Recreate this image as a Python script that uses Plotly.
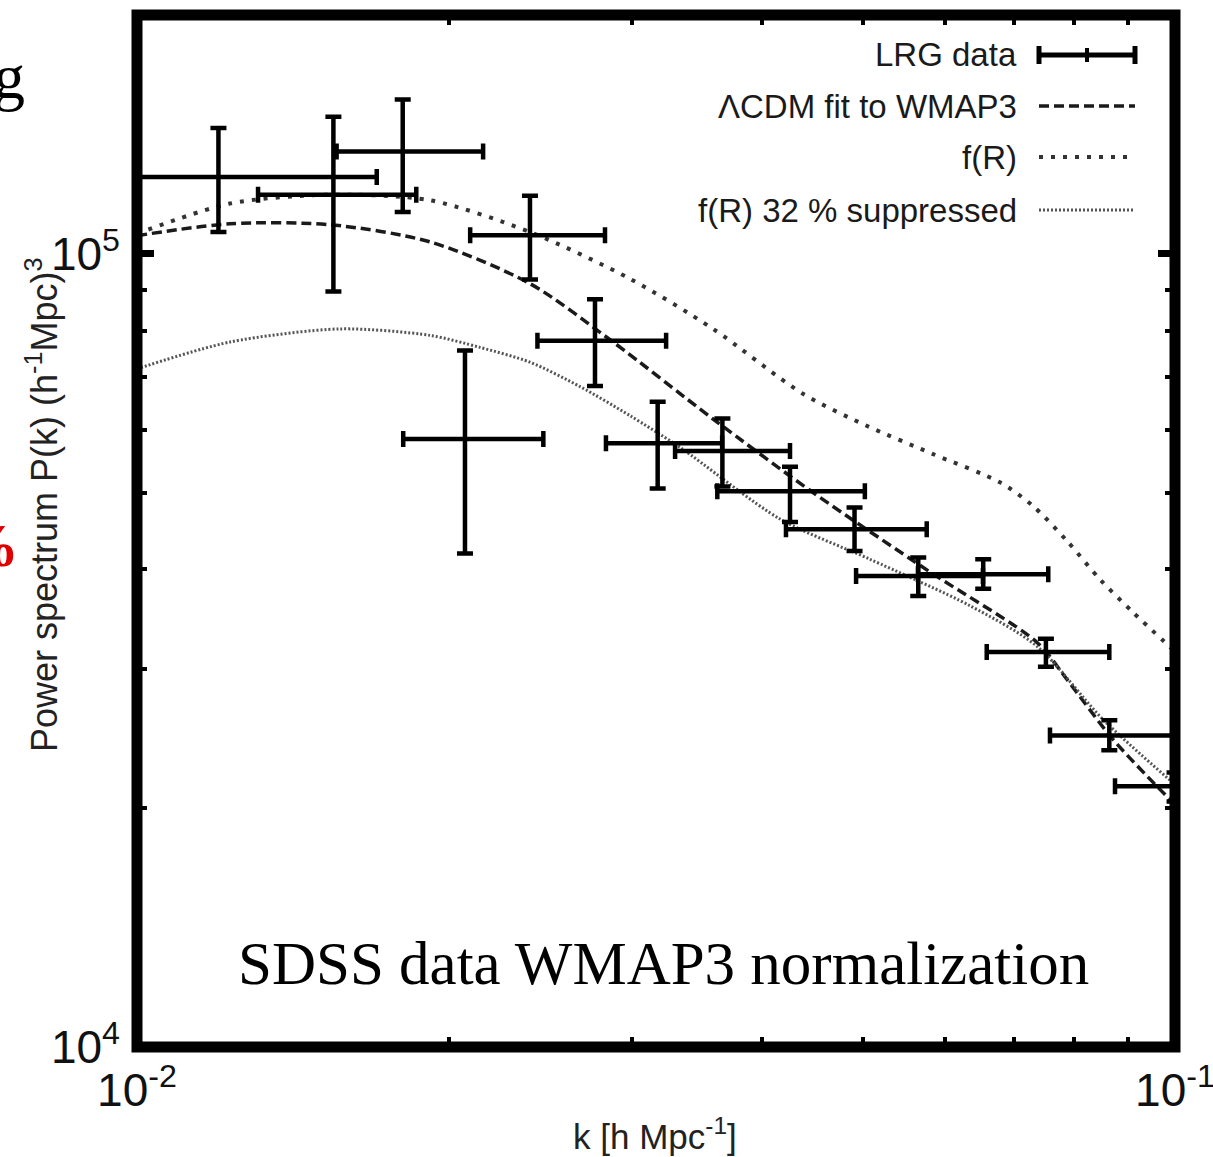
import plotly.graph_objects as go

# ---------------- data ----------------
k_data = [0.01198, 0.01546, 0.01803, 0.02391, 0.02762, 0.02070, 0.03174, 0.03664,
          0.04257, 0.04912, 0.05658, 0.06535, 0.07510, 0.08644, 0.0999]
k_lo = [0.0085, 0.01308, 0.01557, 0.02094, 0.02431, 0.01805, 0.02830, 0.03299,
        0.03623, 0.04219, 0.04929, 0.05654, 0.06586, 0.07578, 0.08754]
k_hi = [0.01702, 0.01858, 0.02155, 0.02824, 0.03234, 0.02463, 0.03662, 0.04257,
        0.05026, 0.05765, 0.06531, 0.07549, 0.08644, 0.1000, 0.1000]
P_data = [1.250e5, 1.187e5, 1.346e5, 1.055e5, 0.777e5, 0.584e5, 0.577e5, 0.564e5,
          0.502e5, 0.4496e5, 0.3925e5, 0.3944e5, 0.3147e5, 0.2470e5, 0.2132e5]
P_hi = [1.441e5, 1.488e5, 1.565e5, 1.183e5, 0.876e5, 0.755e5, 0.651e5, 0.620e5,
        0.539e5, 0.4788e5, 0.4140e5, 0.4120e5, 0.3271e5, 0.2582e5, 0.2218e5]
P_lo = [1.065e5, 0.896e5, 1.129e5, 0.928e5, 0.681e5, 0.419e5, 0.506e5, 0.509e5,
        0.459e5, 0.4220e5, 0.3703e5, 0.3783e5, 0.3016e5, 0.2366e5, 0.2040e5]

k_lcdm = [0.0100, 0.01229, 0.01535, 0.01916, 0.02391, 0.02875, 0.03589, 0.04480,
          0.05808, 0.07364, 0.07870, 0.08715, 0.1000]
P_lcdm = [1.054e5, 1.091e5, 1.088e5, 1.035e5, 0.917e5, 0.774e5, 0.619e5, 0.500e5,
          0.397e5, 0.3236e5, 0.2906e5, 0.2442e5, 0.2020e5]

k_fr = [0.0100, 0.01229, 0.01535, 0.01916, 0.02391, 0.02985, 0.03589, 0.04381,
        0.05046, 0.05848, 0.06783, 0.07297, 0.07870, 0.08467, 0.09110, 0.1000]
P_fr = [1.060e5, 1.157e5, 1.187e5, 1.168e5, 1.065e5, 0.930e5, 0.804e5, 0.666e5,
        0.607e5, 0.559e5, 0.515e5, 0.481e5, 0.4345e5, 0.3886e5, 0.3532e5, 0.3151e5]

k_sup = [0.0100, 0.01229, 0.01569, 0.01916, 0.02140, 0.02391, 0.02672, 0.02985,
         0.03336, 0.04164, 0.05083, 0.06346, 0.07364, 0.08523, 0.1000]
P_sup = [0.716e5, 0.774e5, 0.804e5, 0.789e5, 0.762e5, 0.730e5, 0.680e5, 0.625e5,
         0.570e5, 0.463e5, 0.412e5, 0.360e5, 0.320e5, 0.2588e5, 0.2142e5]

legend_labels = ["LRG data", "\u039bCDM fit to WMAP3", "f(R)", "f(R) 32 % suppressed"]
x_ticks = [0.01, 0.1]
x_ticktext = ["10<sup>-2</sup>", "10<sup>-1</sup>"]
y_ticks = [1e4, 1e5]
y_ticktext = ["10<sup>4</sup>", "10<sup>5</sup>"]
x_minor = [0.02, 0.03, 0.04, 0.05, 0.06, 0.07, 0.08, 0.09]
y_minor = [2e4, 3e4, 4e4, 5e4, 6e4, 7e4, 8e4, 9e4]

# ---------------- figure ----------------
fig = go.Figure()

fig.add_trace(go.Scatter(
    x=k_lcdm, y=P_lcdm, mode="lines",
    line=dict(color="#1a1a1a", width=3.5, dash="10px,5px", shape="spline", smoothing=0.8),
    showlegend=False))
fig.add_trace(go.Scatter(
    x=k_fr, y=P_fr, mode="lines",
    line=dict(color="#333333", width=4, dash="4px,8px", shape="spline", smoothing=0.8),
    showlegend=False))
fig.add_trace(go.Scatter(
    x=k_sup, y=P_sup, mode="lines",
    line=dict(color="#555555", width=3, dash="2px,2px", shape="spline", smoothing=0.8),
    showlegend=False))

fig.add_trace(go.Scatter(
    x=k_data, y=P_data, mode="markers",
    marker=dict(size=1, color="black"),
    error_x=dict(type="data", symmetric=False,
                 array=[h - c for h, c in zip(k_hi, k_data)],
                 arrayminus=[c - l for l, c in zip(k_lo, k_data)],
                 color="black", thickness=4.5, width=8),
    error_y=dict(type="data", symmetric=False,
                 array=[h - c for h, c in zip(P_hi, P_data)],
                 arrayminus=[c - l for l, c in zip(P_lo, P_data)],
                 color="black", thickness=4.5, width=8),
    showlegend=False))

# plot-area geometry in screen pixels (body margin removed by post_script)
W, H = 1213, 1157
SX0, SX1, SY0, SY1 = 137, 1175, 15, 1047   # plot area on screen
L, T = SX0, SY0
R = W - SX1
B = H - SY1
pw, ph = SX1 - SX0, SY1 - SY0

def px(xs):
    return (xs - SX0) / pw

def py(ys):
    return (SY1 - ys) / ph

tickfont = dict(family="Liberation Sans, Arial, sans-serif", size=46, color="#111")

fig.update_xaxes(type="log", range=[-2, -1], tickvals=x_ticks, ticktext=x_ticktext,
                 ticks="inside", ticklen=17, tickwidth=7, tickcolor="black",
                 mirror="allticks", showline=False, showgrid=False, zeroline=False,
                 automargin=False,
                 tickfont=tickfont, ticklabelstandoff=12, ticklabeloverflow="allow",
                 minor=dict(tickvals=x_minor, ticks="inside", ticklen=10, tickwidth=4,
                            tickcolor="black", showgrid=False))
fig.update_yaxes(type="log", range=[4, 5.301], tickvals=y_ticks, ticktext=y_ticktext,
                 ticks="inside", ticklen=17, tickwidth=7, tickcolor="black",
                 mirror="allticks", showline=False, showgrid=False, zeroline=False,
                 automargin=False,
                 tickfont=tickfont, ticklabelstandoff=16, ticklabeloverflow="allow",
                 minor=dict(tickvals=y_minor, ticks="inside", ticklen=10, tickwidth=4,
                            tickcolor="black", showgrid=False))

shapes = [dict(type="rect", xref="paper", yref="paper", x0=0, x1=1, y0=0, y1=1,
               line=dict(color="black", width=11), layer="above")]

# legend samples (drawn to match the right-hand legend layout)
rows = [55, 106, 157, 210]
x0s, x1s = px(1039), px(1135)
shapes += [
    dict(type="line", xref="paper", yref="paper", x0=x0s, x1=x1s, y0=py(rows[0]), y1=py(rows[0]),
         line=dict(color="black", width=5)),
    dict(type="line", xref="paper", yref="paper", x0=x0s, x1=x0s, y0=py(rows[0] - 9), y1=py(rows[0] + 9),
         line=dict(color="black", width=5)),
    dict(type="line", xref="paper", yref="paper", x0=x1s, x1=x1s, y0=py(rows[0] - 9), y1=py(rows[0] + 9),
         line=dict(color="black", width=5)),
    dict(type="line", xref="paper", yref="paper", x0=px(1087), x1=px(1087), y0=py(rows[0] - 7), y1=py(rows[0] + 7),
         line=dict(color="black", width=4)),
    dict(type="line", xref="paper", yref="paper", x0=x0s, x1=x1s, y0=py(rows[1]), y1=py(rows[1]),
         line=dict(color="#1a1a1a", width=3.5, dash="10px,5px")),
    dict(type="line", xref="paper", yref="paper", x0=x0s, x1=px(1130), y0=py(rows[2]), y1=py(rows[2]),
         line=dict(color="#333333", width=4, dash="4px,8px")),
    dict(type="line", xref="paper", yref="paper", x0=x0s, x1=px(1133), y0=py(rows[3]), y1=py(rows[3]),
         line=dict(color="#555555", width=3, dash="2px,2px")),
]

annotations = []
for lab, r in zip(legend_labels, rows):
    annotations.append(dict(text=lab, xref="paper", yref="paper", x=px(1019), y=py(r),
                            xanchor="right", yanchor="middle", showarrow=False,
                            font=dict(family="Liberation Sans, Arial, sans-serif", size=33, color="#1a1a1a")))

annotations.append(dict(text="SDSS data WMAP3 normalization", xref="paper", yref="paper",
                        x=px(663), y=py(963), xanchor="center", yanchor="middle", showarrow=False,
                        font=dict(family="Liberation Serif, Times New Roman, serif", size=61, color="black")))

annotations.append(dict(text="Power spectrum P(k) (h<sup>-1</sup>Mpc)<sup>3</sup>", xref="paper", yref="paper",
                        x=px(42), y=py(505), xanchor="center", yanchor="middle", textangle=-90, showarrow=False,
                        font=dict(family="Liberation Sans, Arial, sans-serif", size=36, color="#222")))

annotations.append(dict(text="k [h Mpc<sup>-1</sup>]", xref="paper", yref="paper",
                        x=px(655), y=py(1134), xanchor="center", yanchor="middle", showarrow=False,
                        font=dict(family="Liberation Sans, Arial, sans-serif", size=35, color="#222")))

# fragments of surrounding slide text cut at the left edge
annotations.append(dict(text="g", xref="paper", yref="paper", x=px(27), y=py(76),
                        xanchor="right", yanchor="middle", showarrow=False,
                        font=dict(family="Liberation Serif, Times New Roman, serif", size=64, color="black")))
annotations.append(dict(text="<b>%</b>", xref="paper", yref="paper", x=px(21), y=py(545),
                        xanchor="right", yanchor="middle", showarrow=False,
                        font=dict(family="Liberation Serif, Times New Roman, serif", size=62, color="#e00000")))

fig.update_layout(width=W, height=H, margin=dict(l=L, r=R, t=T, b=B, autoexpand=False),
                  paper_bgcolor="white", plot_bgcolor="white",
                  shapes=shapes, annotations=annotations, showlegend=False)

fig.write_html("out.html", config={"displayModeBar": False},
               post_script="document.body.style.margin='0';document.body.style.overflow='hidden';")
